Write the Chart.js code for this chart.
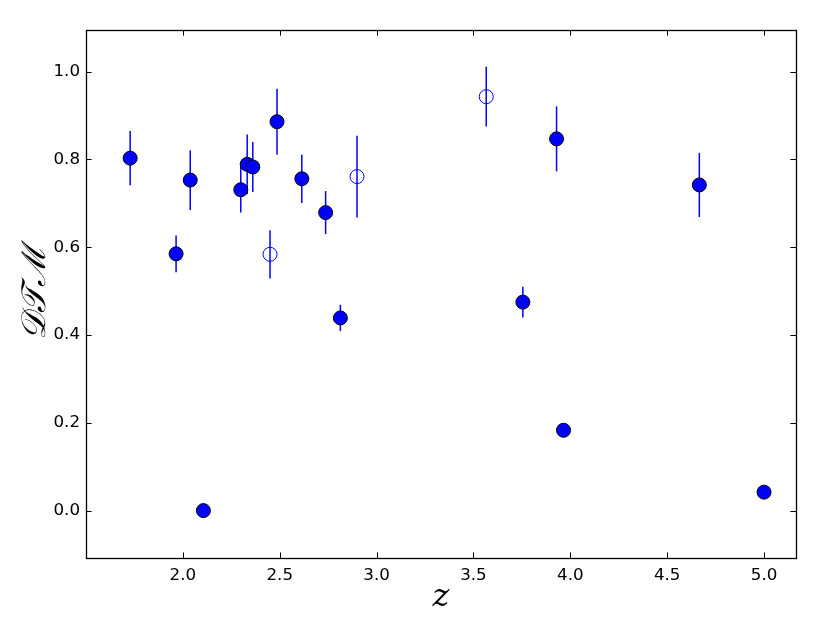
<!DOCTYPE html>
<html><head><meta charset="utf-8">
<script src="https://cdn.jsdelivr.net/npm/chart.js@4"></script>
<style>html,body{margin:0;padding:0;background:#fff}#wrap{width:830px;height:620px;position:relative}</style>
</head><body><div id="wrap"><canvas id="c"></canvas></div>
<script>
// Filled markers
const zFilled   = [1.728, 1.965, 2.038, 2.106, 2.299, 2.332, 2.361, 2.486, 2.614, 2.737, 2.813, 3.755, 3.929, 3.965, 4.666, 5.000];
const dtmFilled = [0.803, 0.585, 0.753, 0.000, 0.731, 0.789, 0.783, 0.886, 0.756, 0.679, 0.439, 0.475, 0.847, 0.183, 0.742, 0.042];
const errFilled = [0.062, 0.042, 0.068, 0.000, 0.052, 0.068, 0.057, 0.075, 0.055, 0.049, 0.030, 0.035, 0.074, 0.000, 0.073, 0.000];
// Open markers
const zOpen   = [2.450, 2.899, 3.566];
const dtmOpen = [0.584, 0.761, 0.943];
const errOpen = [0.055, 0.093, 0.068];
// Axes
const xRange = [1.5, 5.165];
const yRange = [-0.108, 1.095];
const xTicks = [2.0, 2.5, 3.0, 3.5, 4.0, 4.5, 5.0];
const yTicks = [0.0, 0.2, 0.4, 0.6, 0.8, 1.0];
const xLabel = 'z';
const yLabel = '𝒟𝒯ℳ';

const toPts = (xs, ys, es) => xs.map((x, i) => ({x: x, y: ys[i], e: es[i]}));

const errorBars = {
  id: 'errorBars',
  beforeDatasetsDraw(chart) {
    const ctx = chart.ctx, xs = chart.scales.x, ys = chart.scales.y;
    ctx.save();
    ctx.strokeStyle = '#0000ff';
    ctx.lineWidth = 1.5;
    chart.data.datasets.forEach(ds => {
      ds.data.forEach(p => {
        if (!p.e) return;
        const px = xs.getPixelForValue(p.x);
        ctx.beginPath();
        ctx.moveTo(px, ys.getPixelForValue(p.y - p.e));
        ctx.lineTo(px, ys.getPixelForValue(p.y + p.e));
        ctx.stroke();
      });
    });
    ctx.restore();
  }
};

const frame = {
  id: 'frame',
  afterDraw(chart) {
    const ctx = chart.ctx, a = chart.chartArea, xs = chart.scales.x, ys = chart.scales.y;
    const tl = 5.6;
    ctx.save();
    ctx.strokeStyle = '#000';
    ctx.lineWidth = 1;
    ctx.beginPath();
    xTicks.forEach(v => {
      const px = Math.round(xs.getPixelForValue(v)) + 0.5;
      ctx.moveTo(px, a.bottom); ctx.lineTo(px, a.bottom - tl);
      ctx.moveTo(px, a.top); ctx.lineTo(px, a.top + tl);
    });
    yTicks.forEach(v => {
      const py = Math.round(ys.getPixelForValue(v)) + 0.5;
      ctx.moveTo(a.left, py); ctx.lineTo(a.left + tl, py);
      ctx.moveTo(a.right, py); ctx.lineTo(a.right - tl, py);
    });
    ctx.stroke();
    ctx.lineWidth = 1.3;
    ctx.strokeRect(Math.round(a.left) + 0.5, Math.round(a.top) + 0.5, Math.round(a.right - a.left), Math.round(a.bottom - a.top));
    // axis labels
    ctx.fillStyle = '#000';
    ctx.textAlign = 'center';
    ctx.textBaseline = 'middle';
    ctx.font = 'italic 32px "DejaVu Serif", "Liberation Serif", serif';
    ctx.fillText(xLabel, (a.left + a.right) / 2, 598);
    ctx.save();
    ctx.translate(36, (a.top + a.bottom) / 2);
    ctx.rotate(-Math.PI / 2);
    ctx.font = 'italic 34px "DejaVu Serif", "Liberation Serif", serif';
    ctx.fillText(yLabel, 0, 0);
    ctx.restore();
    ctx.restore();
  }
};

new Chart(document.getElementById('c'), {
  type: 'scatter',
  data: {
    datasets: [
      {
        data: toPts(zOpen, dtmOpen, errOpen),
        pointRadius: 7, pointHoverRadius: 7,
        pointBackgroundColor: 'rgba(0,0,0,0)',
        pointBorderColor: '#0000ff',
        pointBorderWidth: 1,
        showLine: false
      },
      {
        data: toPts(zFilled, dtmFilled, errFilled),
        pointRadius: 7, pointHoverRadius: 7,
        pointBackgroundColor: '#0000ff',
        pointBorderColor: '#000000',
        pointBorderWidth: 1,
        showLine: false
      }
    ]
  },
  options: {
    responsive: true,
    maintainAspectRatio: false,
    animation: false,
    events: [],
    layout: { padding: { top: 30, right: 34, left: 0, bottom: 0 } },
    plugins: { legend: { display: false }, tooltip: { enabled: false } },
    scales: {
      x: {
        type: 'linear',
        min: xRange[0], max: xRange[1],
        grid: { display: false, drawTicks: false },
        border: { display: false },
        afterFit: s => { s.height = 62; },
        afterBuildTicks: s => { s.ticks = xTicks.map(v => ({value: v})); },
        ticks: {
          padding: 8,
          color: '#000',
          font: { family: '"DejaVu Sans"', size: 16.7 },
          callback: v => Number(v).toFixed(1)
        }
      },
      y: {
        type: 'linear',
        min: yRange[0], max: yRange[1],
        grid: { display: false, drawTicks: false },
        border: { display: false },
        afterFit: s => { s.width = 86; },
        afterBuildTicks: s => { s.ticks = yTicks.map(v => ({value: v})); },
        ticks: {
          padding: 6,
          color: '#000',
          font: { family: '"DejaVu Sans"', size: 16.7 },
          callback: v => Number(v).toFixed(1)
        }
      }
    }
  },
  plugins: [errorBars, frame]
});
</script>
</body></html>
